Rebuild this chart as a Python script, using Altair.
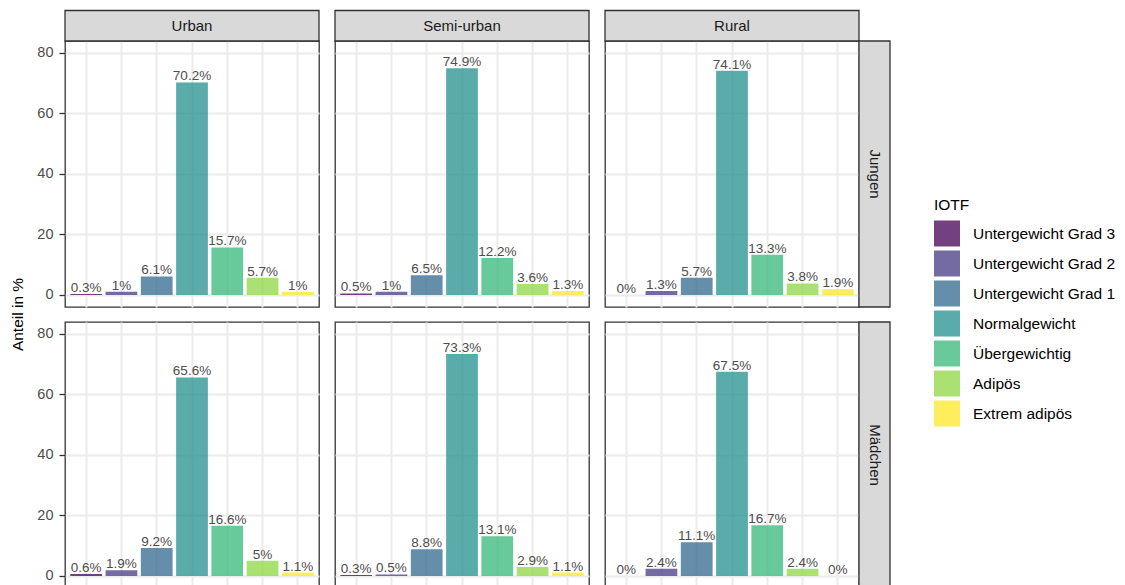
import altair as alt
import pandas as pd

# ---------------- data ----------------
categories = ["Untergewicht Grad 3", "Untergewicht Grad 2", "Untergewicht Grad 1",
              "Normalgewicht", "Übergewichtig", "Adipös", "Extrem adipös"]
palette = ["#440154", "#443A83", "#31688E", "#21908C", "#35B779", "#8FD744", "#FDE725"]
areas = ["Urban", "Semi-urban", "Rural"]
sexes = ["Jungen", "Mädchen"]

jungen_urban = [0.3, 1.0, 6.1, 70.2, 15.7, 5.7, 1.0]
jungen_semi = [0.5, 1.0, 6.5, 74.9, 12.2, 3.6, 1.3]
jungen_rural = [0.0, 1.3, 5.7, 74.1, 13.3, 3.8, 1.9]
maedchen_urban = [0.6, 1.9, 9.2, 65.6, 16.6, 5.0, 1.1]
maedchen_semi = [0.3, 0.5, 8.8, 73.3, 13.1, 2.9, 1.1]
maedchen_rural = [0.0, 2.4, 11.1, 67.5, 16.7, 2.4, 0.0]

y_ticks = [0, 10, 20, 30, 40, 50, 60, 70, 80]
y_domain = [-4.0, 83.9]
y_title = "Anteil in %"
legend_title = "IOTF"

grid_values = [[jungen_urban, jungen_semi, jungen_rural],
               [maedchen_urban, maedchen_semi, maedchen_rural]]

# ---------------- style ----------------
FONT = "Liberation Sans"
W, H = 254, 266
STRIP = 30.5
BORDER = "#333333"
STRIP_FILL = "#D9D9D9"
GRID = "#EBEBEB"


def panel(values, area, sex, col, row):
    df = pd.DataFrame({"cat": categories, "val": values,
                       "lab": [f"{v:g}%" for v in values]})
    first_col = col == 0
    x = alt.X("cat:N", sort=categories,
              scale=alt.Scale(paddingInner=0.1, paddingOuter=0.15),
              axis=alt.Axis(grid=True, bandPosition=0.5, labels=False, ticks=False,
                            domain=False, title=None, gridColor=GRID, gridWidth=2))
    if first_col:
        yaxis = alt.Axis(values=y_ticks, title=None, domain=False, grid=True,
                         gridColor=GRID,
                         gridWidth=alt.ExprRef("datum.value % 20 == 0 ? 2 : 1"),
                         labelExpr="datum.value % 20 == 0 ? datum.label : ''",
                         tickOpacity=alt.ExprRef("datum.value % 20 == 0 ? 1 : 0"),
                         tickColor=BORDER, tickWidth=1.3, tickSize=6,
                         labelPadding=6, labelColor="#4D4D4D", labelFontSize=14.5,
                         labelFont=FONT)
    else:
        yaxis = alt.Axis(values=y_ticks, title=None, domain=False, grid=True,
                         gridColor=GRID,
                         gridWidth=alt.ExprRef("datum.value % 20 == 0 ? 2 : 1"),
                         labels=False, ticks=False)
    y = alt.Y("val:Q", scale=alt.Scale(domain=y_domain, nice=False, zero=False),
              axis=yaxis)
    color = alt.Color("cat:N", sort=categories,
                      scale=alt.Scale(domain=categories, range=palette),
                      legend=alt.Legend(title=legend_title, orient="none",
                                        legendX=869, legendY=157,
                                        symbolType="square", symbolSize=676,
                                        symbolOpacity=0.75, symbolStrokeWidth=0,
                                        rowPadding=4, labelOffset=13, titlePadding=7,
                                        labelFontSize=15.5, titleFontSize=15.5,
                                        labelFont=FONT, titleFont=FONT,
                                        titleFontWeight="normal", labelColor="black",
                                        titleColor="black", padding=0))
    base = alt.Chart(df)
    bars = base.mark_bar(opacity=0.75).encode(x=x, y=y, y2=alt.datum(0), color=color)
    texts = base.mark_text(baseline="alphabetic", dy=-2, fontSize=13.5,
                           color="#4D4D4D", font=FONT).encode(
        x=alt.X("cat:N", sort=categories), y="val:Q", text="lab:N")
    layers = [bars, texts]

    if row == 0:
        sdf = pd.DataFrame({"label": [area]})
        srect = alt.Chart(sdf).mark_rect(fill=STRIP_FILL, stroke=BORDER, strokeWidth=1.3).encode(
            x=alt.value(0), x2=alt.value(W), y=alt.value(-STRIP), y2=alt.value(0))
        stext = alt.Chart(sdf).mark_text(fontSize=15, color="#1A1A1A", font=FONT,
                                         baseline="middle").encode(
            x=alt.value(W / 2), y=alt.value(-STRIP / 2), text="label:N")
        layers += [srect, stext]
    if col == 2:
        rdf = pd.DataFrame({"label": [sex]})
        rrect = alt.Chart(rdf).mark_rect(fill=STRIP_FILL, stroke=BORDER, strokeWidth=1.3).encode(
            x=alt.value(W), x2=alt.value(W + 31), y=alt.value(0), y2=alt.value(H))
        rtext = alt.Chart(rdf).mark_text(fontSize=15, color="#1A1A1A", font=FONT,
                                         angle=90, baseline="middle").encode(
            x=alt.value(W + 15.5), y=alt.value(H / 2), text="label:N")
        layers += [rrect, rtext]
    if row == 1 and col == 0:
        tdf = pd.DataFrame({"label": [y_title]})
        ttext = alt.Chart(tdf).mark_text(fontSize=15.5, color="black", font=FONT,
                                         angle=270, baseline="middle").encode(
            x=alt.value(-47.3), y=alt.value(-7.5), text="label:N")
        layers += [ttext]
    return alt.layer(*layers).properties(width=W, height=H)


panels = []
for r, sex in enumerate(sexes):
    for c, area in enumerate(areas):
        panels.append(panel(grid_values[r][c], area, sex, c, r))

chart = alt.concat(*panels, columns=3, spacing={"row": 15, "column": 16},
                   bounds="flush").resolve_scale(color="shared").resolve_legend(color="shared")

chart = chart.configure(
    font=FONT,
    padding={"left": 2, "top": 1, "right": 0, "bottom": 0},
).configure_view(stroke=BORDER, strokeWidth=1.3)

chart.save("out.html", embed_options={"renderer": "svg", "actions": False})
